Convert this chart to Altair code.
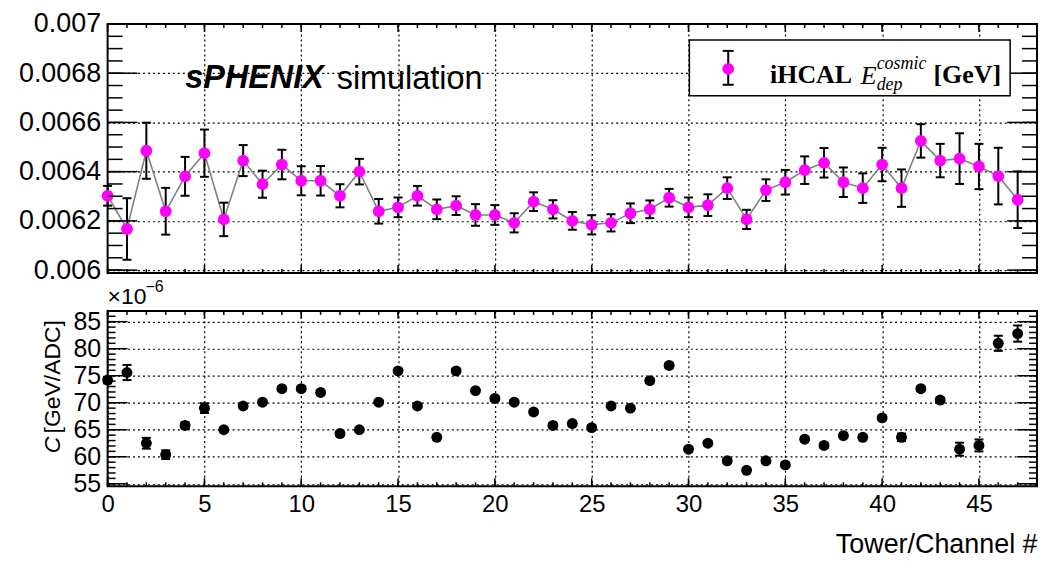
import altair as alt
import pandas as pd

# ---------------- data ----------------
channels = list(range(48))

edep = [0.006302, 0.006167, 0.006485, 0.006239, 0.006381, 0.006475, 0.006206, 0.006445,
        0.006349, 0.006429, 0.006363, 0.006363, 0.006302, 0.006400, 0.006239, 0.006255,
        0.006302, 0.006247, 0.006262, 0.006224, 0.006224, 0.006192, 0.006278, 0.006247,
        0.006200, 0.006184, 0.006192, 0.006231, 0.006247, 0.006294, 0.006255, 0.006264,
        0.006333, 0.006206, 0.006325, 0.006357, 0.006406, 0.006436, 0.006357, 0.006333,
        0.006429, 0.006333, 0.006525, 0.006445, 0.006453, 0.006421, 0.006382, 0.006286]
edep_err = [0.000040, 0.000125, 0.000114, 0.000095, 0.000079, 0.000096, 0.000068, 0.000063,
            0.000055, 0.000060, 0.000059, 0.000060, 0.000047, 0.000052, 0.000050, 0.000040,
            0.000040, 0.000040, 0.000038, 0.000044, 0.000040, 0.000039, 0.000038, 0.000037,
            0.000036, 0.000039, 0.000035, 0.000040, 0.000036, 0.000036, 0.000040, 0.000044,
            0.000044, 0.000039, 0.000044, 0.000050, 0.000056, 0.000060, 0.000060, 0.000060,
            0.000068, 0.000076, 0.000068, 0.000068, 0.000103, 0.000092, 0.000115, 0.000115]

calib = [74.2, 75.6, 62.5, 60.4, 65.8, 69.0, 65.0, 69.4, 70.1, 72.6, 72.6, 71.9,
         64.3, 65.0, 70.1, 75.9, 69.4, 63.6, 75.9, 72.25, 70.8, 70.1, 68.3, 65.8,
         66.15, 65.4, 69.4, 69.0, 74.1, 76.9, 61.4, 62.5, 59.25, 57.5, 59.25, 58.5,
         63.25, 62.1, 63.9, 63.6, 67.2, 63.6, 72.6, 70.5, 61.4, 62.1, 81.0, 82.8]
calib_err = [0.6, 1.4, 1.0, 0.8, 0.6, 0.9, 0.4, 0.4, 0.4, 0.4, 0.4, 0.4,
             0.4, 0.4, 0.4, 0.4, 0.4, 0.4, 0.4, 0.4, 0.4, 0.4, 0.4, 0.4,
             0.4, 0.4, 0.4, 0.4, 0.4, 0.4, 0.4, 0.4, 0.4, 0.4, 0.4, 0.4,
             0.4, 0.4, 0.4, 0.4, 0.4, 0.7, 0.4, 0.4, 1.2, 1.1, 1.4, 1.5]

# tick / label positions
x_major = [0, 5, 10, 15, 20, 25, 30, 35, 40, 45]
x_minor = list(range(0, 49))
top_y_major = [0.006, 0.0062, 0.0064, 0.0066, 0.0068, 0.007]
top_y_minor = [round(0.006 + 0.00005 * i, 6) for i in range(21)]
bot_y_major = [55, 60, 65, 70, 75, 80, 85]
bot_y_minor = list(range(55, 88))

W = 933
H1 = 250
H2 = 176
SANS = "Liberation Sans"
SERIF = "Liberation Serif"

xscale = alt.Scale(domain=[0, 48], nice=False, zero=False)
ytop = alt.Scale(domain=[0.005988, 0.007], nice=False, zero=False)
ybot = alt.Scale(domain=[54.55, 87.0], nice=False, zero=False)

df_top = pd.DataFrame({"ch": channels, "e": edep,
                       "lo": [v - e for v, e in zip(edep, edep_err)],
                       "hi": [v + e for v, e in zip(edep, edep_err)]})
df_bot = pd.DataFrame({"ch": channels, "c": calib,
                       "lo": [v - e for v, e in zip(calib, calib_err)],
                       "hi": [v + e for v, e in zip(calib, calib_err)]})
one = pd.DataFrame({"a": [0]})

grid_kw = dict(grid=True, gridDash=[2, 3], gridColor="black", gridWidth=1.2, gridOpacity=1,
               ticks=False, domain=False, title=None)

top_x_axis = alt.Axis(values=x_major[1:], labels=False, **grid_kw)
top_y_axis = alt.Axis(values=top_y_major, labels=True, labelFontSize=27, labelFont=SANS,
                      labelColor="black", labelPadding=7, format=".4~f",
                      labelOverlap=False, **grid_kw)
bot_x_axis = alt.Axis(values=x_major, labels=True, labelFontSize=24, labelFont=SANS,
                      labelColor="black", labelPadding=6, labelFlush=False,
                      labelOverlap=False,
                      grid=True, gridDash=[2, 3], gridColor="black", gridWidth=1.2,
                      gridOpacity=1, ticks=False, domain=False,
                      title="Tower/Channel #", titleFont=SANS, titleFontSize=27,
                      titleFontWeight="normal", titleColor="black", titleAlign="right",
                      titleX=W, titleY=67, titleBaseline="alphabetic")
bot_y_axis = alt.Axis(values=bot_y_major, labels=True, labelFontSize=25, labelFont=SANS,
                      labelColor="black", labelPadding=7, labelOverlap=False,
                      **grid_kw)


def yticks(vals, scale, axis, length, width):
    d = pd.DataFrame({"v": vals})
    base = alt.Chart(d).mark_rule(color="black", strokeWidth=1.5)
    left = base.encode(y=alt.Y("v:Q", scale=scale, axis=axis),
                       x=alt.value(0), x2=alt.value(length))
    right = base.encode(y=alt.Y("v:Q", scale=scale, axis=axis),
                        x=alt.value(width), x2=alt.value(width - length))
    return [left, right]


def xticks(vals, axis, length, height):
    d = pd.DataFrame({"v": vals})
    base = alt.Chart(d).mark_rule(color="black", strokeWidth=1.5)
    bottom = base.encode(x=alt.X("v:Q", scale=xscale, axis=axis),
                         y=alt.value(height), y2=alt.value(height - length))
    top = base.encode(x=alt.X("v:Q", scale=xscale, axis=axis),
                      y=alt.value(0), y2=alt.value(length))
    return [bottom, top]


def txt(text, x, y, size, font=SANS, style="normal", weight="normal", align="left",
        baseline="alphabetic", angle=0):
    return alt.Chart(one).mark_text(text=text, font=font, fontSize=size, fontStyle=style,
                                    fontWeight=weight, align=align, baseline=baseline,
                                    angle=angle, color="black").encode(
        x=alt.value(x), y=alt.value(y))


def err_layers(df, ys, xa, ya, color_pt, size_pt, valfield):
    X = alt.X("ch:Q", scale=xscale, axis=xa)
    bars = alt.Chart(df).mark_rule(color="black", strokeWidth=2).encode(
        x=X, y=alt.Y("lo:Q", scale=ys, axis=ya), y2="hi:Q")
    cap_lo = alt.Chart(df).mark_rule(color="black", strokeWidth=2, xOffset=-4.5,
                                     x2Offset=4.5).encode(
        x=X, x2="ch:Q", y=alt.Y("lo:Q", scale=ys, axis=ya))
    cap_hi = alt.Chart(df).mark_rule(color="black", strokeWidth=2, xOffset=-4.5,
                                     x2Offset=4.5).encode(
        x=X, x2="ch:Q", y=alt.Y("hi:Q", scale=ys, axis=ya))
    pts = alt.Chart(df).mark_circle(color=color_pt, size=size_pt, opacity=1).encode(
        x=X, y=alt.Y(valfield + ":Q", scale=ys, axis=ya))
    return [bars, cap_lo, cap_hi, pts]


# ---------------- top panel ----------------
top_line = alt.Chart(df_top).mark_line(color="#808080", strokeWidth=1.6).encode(
    x=alt.X("ch:Q", scale=xscale, axis=top_x_axis),
    y=alt.Y("e:Q", scale=ytop, axis=top_y_axis))

legend_box = alt.Chart(one).mark_rect(fill="white", stroke="black", strokeWidth=1.5).encode(
    x=alt.value(584), x2=alt.value(906), y=alt.value(16), y2=alt.value(72))
leg_bar = alt.Chart(one).mark_rule(color="black", strokeWidth=2).encode(
    x=alt.value(623), y=alt.value(27), y2=alt.value(61))
leg_cap1 = alt.Chart(one).mark_rule(color="black", strokeWidth=2).encode(
    x=alt.value(617.5), x2=alt.value(628.5), y=alt.value(27))
leg_cap2 = alt.Chart(one).mark_rule(color="black", strokeWidth=2).encode(
    x=alt.value(617.5), x2=alt.value(628.5), y=alt.value(61))
leg_pt = alt.Chart(one).mark_circle(color="#ff00ff", size=140, opacity=1).encode(
    x=alt.value(623), y=alt.value(45))

top_layers = [top_line] + err_layers(df_top, ytop, top_x_axis, top_y_axis, "#ff00ff", 140, "e")
top_layers += yticks(top_y_major, ytop, top_y_axis, 30, W)
top_layers += yticks(top_y_minor, ytop, top_y_axis, 15, W)
top_layers += xticks(x_major, top_x_axis, 8, H1) + xticks(x_minor, top_x_axis, 4, H1)
top_layers += [legend_box, leg_bar, leg_cap1, leg_cap2, leg_pt,
               txt("iHCAL", 665, 59, 26, font=SERIF, weight="bold"),
               txt("E", 756, 60, 26, font=SERIF, style="italic"),
               txt("cosmic", 772, 45, 18, font=SERIF, style="italic"),
               txt("dep", 772, 66, 18, font=SERIF, style="italic"),
               txt("[GeV]", 829, 59, 26, font=SERIF, weight="bold"),
               txt("sPHENIX", 78, 64, 32.5, style="italic", weight="bold"),
               txt("simulation", 230, 65, 32.5)]

top = alt.layer(*top_layers).properties(width=W, height=H1)

# ---------------- bottom panel ----------------
bot_layers = err_layers(df_bot, ybot, bot_x_axis, bot_y_axis, "black", 120, "c")
bot_layers += yticks(bot_y_major, ybot, bot_y_axis, 20, W)
bot_layers += yticks(bot_y_minor, ybot, bot_y_axis, 8, W)
bot_layers += xticks(x_major, bot_x_axis, 8, H2) + xticks(x_minor, bot_x_axis, 4, H2)
bot_layers += [txt("\u00d710", 0, -7, 23),
               txt("\u221206", 38, -19, 16).encode(text=alt.value("\u22126")),
               txt("C", -55, 143, 23, style="italic", angle=270, baseline="middle"),
               txt("[GeV/ADC]", -55, 123, 23, angle=270, baseline="middle")]

bottom = alt.layer(*bot_layers).properties(width=W, height=H2)

chart = alt.vconcat(top, bottom, spacing=38, bounds="flush").properties(
    padding={"left": 9, "top": 0, "right": 5, "bottom": 0},
    background="white"
).configure_view(stroke="black", strokeWidth=2).configure_axis(labelOverlap=False)

chart.save("out.html", embed_options={"renderer": "svg", "actions": False})
